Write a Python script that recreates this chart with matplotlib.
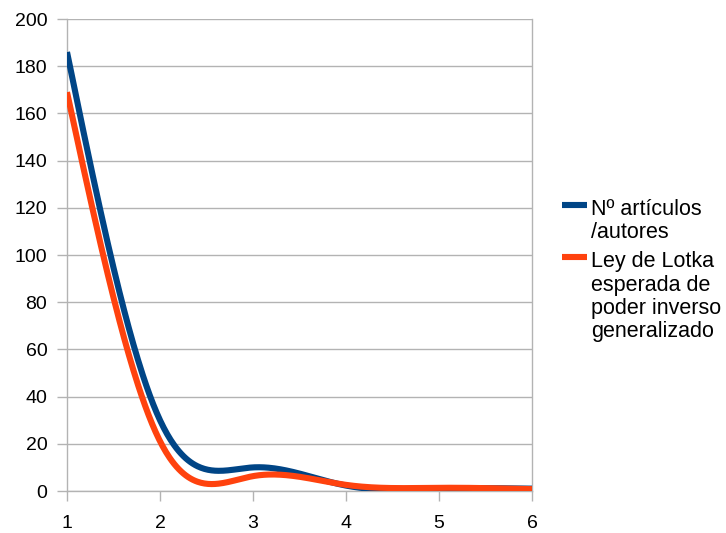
import numpy as np
import matplotlib
matplotlib.use("Agg")
import matplotlib.pyplot as plt
from matplotlib.lines import Line2D

x_vals = [1, 2, 3, 4, 5, 6]
articulos = [186, 30, 10, 2.3, 1, 1]
lotka = [169, 21.1, 6.3, 2.6, 1.35, 0.78]
y_ticks = [0, 20, 40, 60, 80, 100, 120, 140, 160, 180, 200]
labels = ["Nº artículos\n/autores", "Ley de Lotka\nesperada de\npoder inverso\ngeneralizado"]
colors = ["#004586", "#ff420e"]


def natural_spline(x, y, n=400):
    x = np.asarray(x, float)
    y = np.asarray(y, float)
    k = len(x)
    h = np.diff(x)
    A = np.zeros((k, k))
    b = np.zeros(k)
    A[0, 0] = 1
    A[-1, -1] = 1
    for i in range(1, k - 1):
        A[i, i - 1] = h[i - 1]
        A[i, i] = 2 * (h[i - 1] + h[i])
        A[i, i + 1] = h[i]
        b[i] = 6 * ((y[i + 1] - y[i]) / h[i] - (y[i] - y[i - 1]) / h[i - 1])
    M = np.linalg.solve(A, b)
    xs = np.linspace(x[0], x[-1], n)
    ys = np.empty_like(xs)
    for j, t in enumerate(xs):
        i = min(np.searchsorted(x, t, side="right") - 1, k - 2)
        hi = h[i]
        a = (x[i + 1] - t) / hi
        c = (t - x[i]) / hi
        ys[j] = (a * y[i] + c * y[i + 1]
                 + ((a ** 3 - a) * M[i] + (c ** 3 - c) * M[i + 1]) * hi ** 2 / 6)
    return xs, ys


plt.rcParams["font.family"] = ["Liberation Sans", "DejaVu Sans"]
W, H = 726, 533
fig = plt.figure(figsize=(W / 100, H / 100), dpi=100)
ax = fig.add_axes([67 / W, 1 - 491 / H, (532 - 67) / W, (491 - 19) / H])

for series, lab, col in zip([articulos, lotka], labels, colors):
    xs, ys = natural_spline(x_vals, series)
    ax.plot(xs, ys, color=col, lw=4.4, label=lab, solid_capstyle="butt",
            solid_joinstyle="round", zorder=3)

ax.set_xlim(1, 6)
ax.set_ylim(0, 200)
ax.set_xticks(x_vals)
ax.set_yticks(y_ticks)
ax.yaxis.grid(True, color="#b3b3b3", lw=1)
ax.set_axisbelow(True)
for s in ["top", "bottom", "left", "right"]:
    ax.spines[s].set_color("#b3b3b3")
    ax.spines[s].set_linewidth(1)
ax.spines["top"].set_visible(False)
ax.tick_params(axis="both", colors="#b3b3b3", length=7.2, width=1, labelsize=14,
               labelcolor="black")
ax.tick_params(axis="x", pad=10)
ax.tick_params(axis="y", pad=7)

# legend drawn manually (handle aligned with the first text line, like the original)
line_step = 23.3   # px between lines within an entry
entry_gap = 29.0   # px between last line of one entry and first of next
baseline = 215.0   # px from top, first line baseline
for lab, col in zip(labels, colors):
    lines = lab.split("\n")
    yc = baseline - 10
    fig.add_artist(Line2D([562 / W, 587 / W], [1 - yc / H, 1 - yc / H],
                          color=col, lw=4.4, solid_capstyle="butt",
                          transform=fig.transFigure))
    for k, txt in enumerate(lines):
        fig.text(591 / W, 1 - (baseline + k * line_step) / H, txt,
                 fontsize=15.5, va="baseline", ha="left", color="black")
    baseline += (len(lines) - 1) * line_step + entry_gap

fig.savefig("out.png", dpi=100)
